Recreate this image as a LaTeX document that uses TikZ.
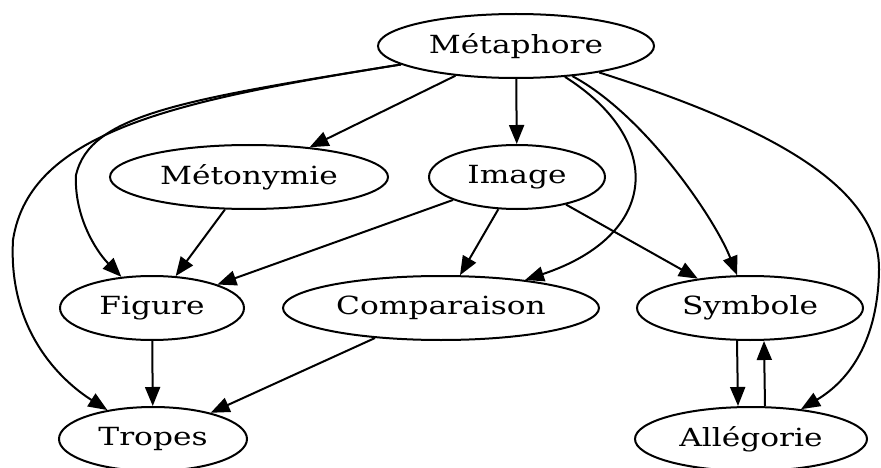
\documentclass[tikz,border=0pt]{standalone}
\usepackage{fontspec}
\setmainfont{DejaVu Serif}[FakeStretch=1.25]
\usetikzlibrary{shapes.geometric,arrows.meta}
\tikzset{every picture/.style={line width=2pt}}

\begin{document}
\begin{tikzpicture}[x=1pt,y=1pt,yscale=-1,
  term/.style={ellipse, draw, minimum height=64pt, inner sep=0pt, font=\fontsize{25}{30}\selectfont},
  edge/.style={-{Triangle[length=19pt,width=15pt]}}]
\useasboundingbox (0,0) rectangle (881,468);

%Nodes
\node[term, minimum width=276pt] (meta) at (516,46) {Métaphore};
\node[term, minimum width=278pt] (meto) at (249,177) {Métonymie};
\node[term, minimum width=176pt] (image) at (517,177) {Image};
\node[term, minimum width=184pt] (figure) at (152,308) {Figure};
\node[term, minimum width=316pt] (comp) at (441,308) {Comparaison};
\node[term, minimum width=226pt] (symb) at (750,308) {Symbole};
\node[term, minimum width=188pt] (tropes) at (153,439) {Tropes};
\node[term, minimum width=232pt] (alleg) at (751,439) {Allégorie};

%Straight edges
\draw[edge] (meta) -- (meto);
\draw[edge] (meta) -- (image);
\draw[edge] (meto) -- (figure);
\draw[edge] (image) -- (figure);
\draw[edge] (image) -- (comp);
\draw[edge] (image) -- (symb);
\draw[edge] (figure) -- (tropes);
\draw[edge] (comp) -- (tropes);
\draw[edge] ([xshift=-13pt]symb.south) -- ([xshift=-13pt]alleg.north);
\draw[edge] ([xshift=14pt]alleg.north) -- ([xshift=14pt]symb.south);

%Curved edges
\draw[edge] (meta) .. controls (180,100) and (90,115) .. (76,175) .. controls (74,215) and (95,250) .. (figure);
\draw[edge] (meta) .. controls (180,100) and (30,130) .. (13,240) .. controls (8,330) and (60,380) .. (tropes);
\draw[edge] (meta) .. controls (665,140) and (660,235) .. (comp);
\draw[edge] (meta) .. controls (645,115) and (715,219) .. (symb);
\draw[edge] (meta) .. controls (780,130) and (880,190) .. (879,270) .. controls (878,340) and (850,380) .. (alleg);

\end{tikzpicture}
\end{document}
